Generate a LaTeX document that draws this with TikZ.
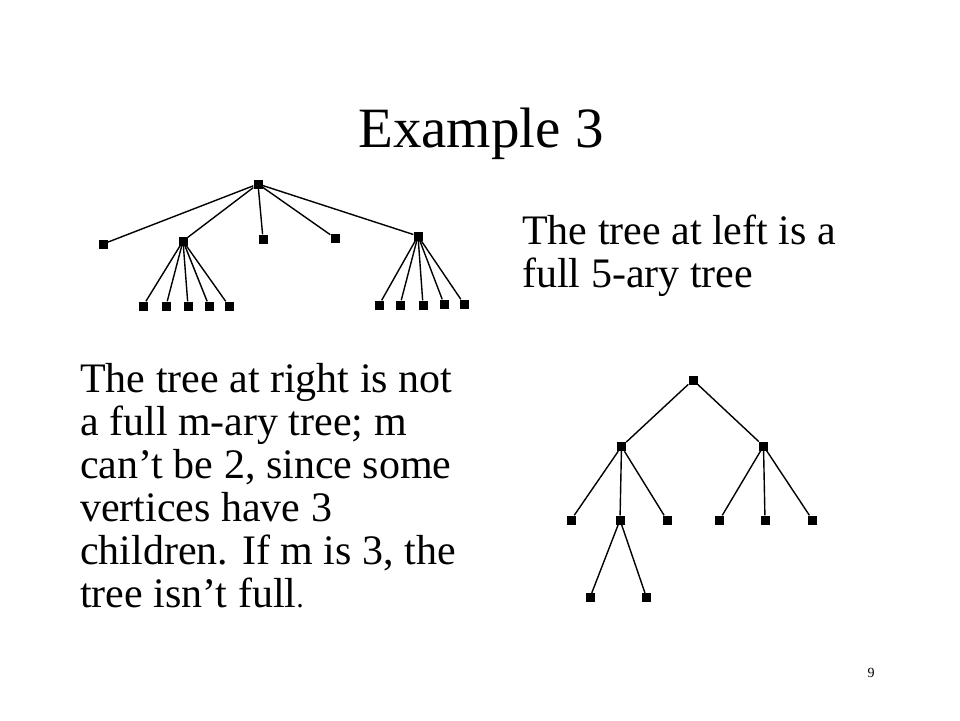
\documentclass[tikz,border=0pt]{standalone}
\usepackage{fontspec}
\setmainfont{Liberation Serif}
\begin{document}
\begin{tikzpicture}[x=1pt,y=-1pt,
  vtx/.style={fill=black,draw=none,minimum size=9pt,inner sep=0pt,rectangle},
  edge/.style={line width=1.4pt,black},
  bodytext/.style={anchor=base west,inner sep=0pt,font=\fontsize{42}{43}\selectfont},
  titletext/.style={anchor=base,inner sep=0pt,font=\fontsize{57}{60}\selectfont}]
\useasboundingbox[fill=white] (0,0) rectangle (960,720);

% Title
\node[titletext] (title) at (481,147) {Example 3};

% Tree 1 (full 5-ary)
\node[vtx] (r) at (258,184) {};
\node[vtx] (l1) at (103,244) {};
\node[vtx] (a) at (183,241) {};
\node[vtx] (m1) at (263,239) {};
\node[vtx] (m2) at (335,238) {};
\node[vtx] (b) at (418,236) {};
\foreach \x [count=\i] in {143,166,188,209,229}
  \node[vtx] (a\i) at (\x,306) {};
\foreach \x/\y [count=\i] in {379/305,400/305,423/305,444/304,464/304}
  \node[vtx] (b\i) at (\x,\y) {};
\foreach \n in {l1,a,m1,m2,b} \draw[edge] (r) -- (\n);
\foreach \i in {1,...,5} {
  \draw[edge] (a) -- (a\i);
  \draw[edge] (b) -- (b\i);
}

% Tree 2
\node[vtx] (s) at (693,380) {};
\node[vtx] (sl) at (621.5,446.5) {};
\node[vtx] (sr) at (763.5,446) {};
\node[vtx] (sl1) at (571,520) {};
\node[vtx] (sl2) at (620,520) {};
\node[vtx] (sl3) at (667,520) {};
\node[vtx] (sr1) at (719.5,520) {};
\node[vtx] (sr2) at (765,520) {};
\node[vtx] (sr3) at (812.5,520) {};
\node[vtx] (g1) at (590,597.5) {};
\node[vtx] (g2) at (646.5,597.5) {};
\foreach \n in {sl,sr} \draw[edge] (s) -- (\n);
\foreach \n in {sl1,sl2,sl3} \draw[edge] (sl) -- (\n);
\foreach \n in {sr1,sr2,sr3} \draw[edge] (sr) -- (\n);
\foreach \n in {g1,g2} \draw[edge] (sl2) -- (\n);

% Right text
\node[bodytext] (rt1) at (522,244) {The tree at left is a};
\node[bodytext] (rt2) at (522,287) {full 5-ary tree};

% Left text
\node[bodytext] (lt1) at (80,392) {The tree at right is not};
\node[bodytext] (lt2) at (80,435) {a full m-ary tree; m};
\node[bodytext] (lt3) at (80,478) {can’t be 2, since some};
\node[bodytext] (lt4) at (80,521) {vertices have 3};
\node[bodytext] (lt5) at (80,564) {children. If m is 3, the};
\node[bodytext] (lt6) at (80,607) {tree isn’t full{\fontsize{30}{30}\selectfont .}};

% Page number
\node[anchor=base,inner sep=0pt,font=\fontsize{14}{14}\selectfont] (pn) at (871,677) {9};
\end{tikzpicture}
\end{document}
